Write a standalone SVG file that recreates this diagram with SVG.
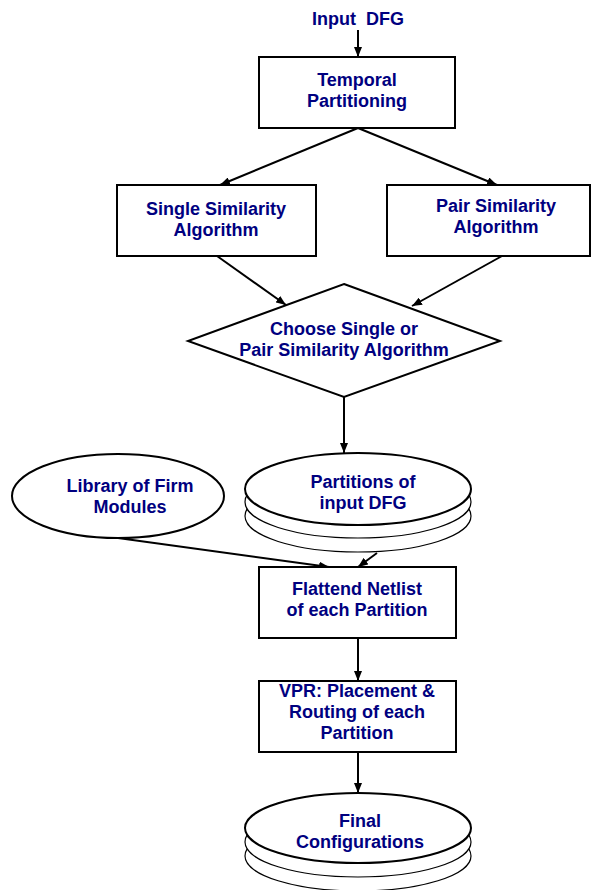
<svg xmlns="http://www.w3.org/2000/svg" width="595" height="890" viewBox="0 0 595 890">
<defs>
<marker id="ah" markerWidth="10" markerHeight="8" refX="10" refY="4" orient="auto" markerUnits="userSpaceOnUse">
<path d="M0,0 L10,4 L0,8 Z" fill="#000"/>
</marker>
<style>
.t{font-family:"Liberation Sans",Arial,sans-serif;font-weight:bold;font-size:18px;fill:#000080;text-anchor:middle}
.b{fill:#fff;stroke:#000;stroke-width:2}
.s{fill:#fff;stroke:#000;stroke-width:1.2}
.c{fill:none;stroke:#000;stroke-width:2;marker-end:url(#ah)}
</style>
</defs>
<rect width="595" height="890" fill="#fff"/>
<g id="connectors">
<line class="c" x1="358" y1="30" x2="358" y2="57"/>
<line class="c" x1="358" y1="128" x2="220" y2="185"/>
<line class="c" x1="358" y1="128" x2="497" y2="185"/>
<line class="c" x1="217" y1="256" x2="286" y2="305"/>
<line class="c" x1="502" y1="256" x2="412" y2="306"/>
<line class="c" x1="344" y1="397" x2="344" y2="453"/>
<line class="c" x1="118" y1="538" x2="329" y2="567"/>
<line class="c" x1="377" y1="553" x2="358" y2="567"/>
<line class="c" x1="358" y1="638" x2="358" y2="681"/>
<line class="c" x1="358" y1="752" x2="358" y2="793"/>
</g>
<g id="input">
<text class="t" x="358" y="25" xml:space="preserve">Input  DFG</text>
</g>
<g id="temporal">
<rect class="b" x="259" y="57" width="196" height="71"/>
<text class="t" x="357" y="86">Temporal</text>
<text class="t" x="357" y="107">Partitioning</text>
</g>
<g id="single">
<rect class="b" x="117" y="185" width="199" height="71"/>
<text class="t" x="216" y="215">Single Similarity</text>
<text class="t" x="216" y="236">Algorithm</text>
</g>
<g id="pair">
<rect class="b" x="387" y="185" width="203" height="71"/>
<text class="t" x="496" y="212">Pair Similarity</text>
<text class="t" x="496" y="233">Algorithm</text>
</g>
<g id="choose">
<polygon class="b" points="344,284 500,341 344,397 188,341"/>
<text class="t" x="344" y="335">Choose Single or</text>
<text class="t" x="344" y="356">Pair Similarity Algorithm</text>
</g>
<g id="library">
<ellipse class="b" cx="118" cy="496" rx="106" ry="42"/>
<text class="t" x="130" y="492">Library of Firm</text>
<text class="t" x="130" y="513">Modules</text>
</g>
<g id="partitions">
<ellipse class="s" cx="358" cy="516" rx="113" ry="36"/>
<ellipse class="s" cx="358" cy="502" rx="113" ry="36"/>
<ellipse class="b" cx="358" cy="489" rx="113" ry="36"/>
<text class="t" x="363" y="488">Partitions of</text>
<text class="t" x="363" y="509">input DFG</text>
</g>
<g id="flattend">
<rect class="b" x="259" y="567" width="197" height="71"/>
<text class="t" x="357" y="595">Flattend Netlist</text>
<text class="t" x="357" y="616">of each Partition</text>
</g>
<g id="vpr">
<rect class="b" x="259" y="681" width="197" height="71"/>
<text class="t" x="357" y="697">VPR: Placement &amp;</text>
<text class="t" x="357" y="718">Routing of each</text>
<text class="t" x="357" y="739">Partition</text>
</g>
<g id="final">
<ellipse class="s" cx="358" cy="856" rx="113" ry="35"/>
<ellipse class="s" cx="358" cy="842" rx="113" ry="35"/>
<ellipse class="b" cx="358" cy="828" rx="113" ry="35"/>
<text class="t" x="360" y="827">Final</text>
<text class="t" x="360" y="848">Configurations</text>
</g>
</svg>
